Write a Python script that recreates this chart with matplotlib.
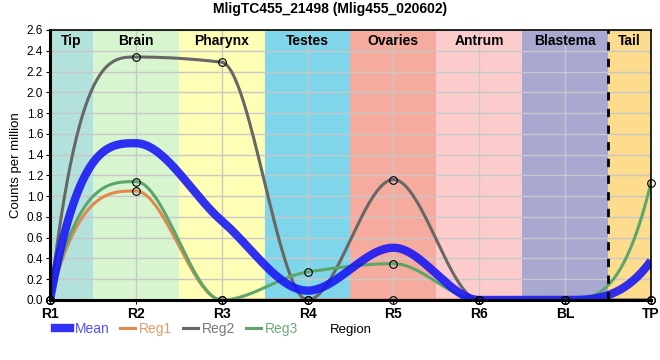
import numpy as np
import matplotlib.pyplot as plt

plt.rcParams['font.family'] = ['Liberation Sans', 'DejaVu Sans']

regions = ['R1', 'R2', 'R3', 'R4', 'R5', 'R6', 'BL', 'TP']
reg1 = [0.0, 1.05, 0.0, 0.0, 0.0, 0.0, 0.0, 0.0]
reg2 = [0.0, 2.34, 2.29, 0.0, 1.16, 0.0, 0.0, 0.0]
reg3 = [0.0, 1.14, 0.0, 0.27, 0.35, 0.0, 0.0, 1.13]
mean = list(np.mean([reg1, reg2, reg3], axis=0))

bands = ['Tip', 'Brain', 'Pharynx', 'Testes', 'Ovaries', 'Antrum', 'Blastema', 'Tail']
band_colors = ['#b3e2dd', '#d7f5cf', '#fefeb4', '#7fd5ea', '#f5ab9e', '#fccbcb', '#a9a8d0', '#fddc8d']


def smooth(y, n=60):
    # monotone cubic, curvature-free ends
    y = np.asarray(y, float)
    x = np.arange(len(y), dtype=float)
    d = np.diff(y)
    m = np.zeros_like(y)
    for i in range(1, len(y) - 1):
        if d[i - 1] * d[i] > 0:
            m[i] = 2 / (1 / d[i - 1] + 1 / d[i])
    m[0] = 3 * d[0] - 2 * m[1]
    m[-1] = 3 * d[-1] - 2 * m[-2]
    xs, ys = [], []
    for i in range(len(y) - 1):
        t = np.linspace(0, 1, n)
        h00 = 2 * t**3 - 3 * t**2 + 1
        h10 = t**3 - 2 * t**2 + t
        h01 = -2 * t**3 + 3 * t**2
        h11 = t**3 - t**2
        xs.append(x[i] + t)
        ys.append(h00 * y[i] + h10 * m[i] + h01 * y[i + 1] + h11 * m[i + 1])
    return np.concatenate(xs), np.concatenate(ys)


fig = plt.figure(figsize=(6.6, 3.6), dpi=100)
ax = fig.add_axes([50 / 660, 60 / 360, 601 / 660, 270 / 360])

for i, (name, c) in enumerate(zip(bands, band_colors)):
    lo = max(i - 0.5, 0)
    hi = min(i + 0.5, 7)
    ax.axvspan(lo, hi, color=c, lw=0, zorder=0)
    ax.text((lo + hi) / 2, 2.49, name, ha='center', va='center',
            fontsize=10, fontweight='bold', zorder=5)

ax.axvline(6.5, color='black', ls=(0, (3, 3)), lw=2, zorder=6)

x = np.arange(len(regions))
series = [('Reg1', reg1, '#e0894f'), ('Reg2', reg2, '#676767'), ('Reg3', reg3, '#5ca66a')]
for name, vals, c in series:
    sx, sy = smooth(vals)
    ax.plot(sx, sy, color=c, lw=2.2, zorder=3, label=name)
for name, vals, c in series:
    ax.plot(x, vals, 'o', ms=5.5, mfc='none', mec='black', mew=0.8, zorder=7, clip_on=False)

mx, my = smooth(mean)
ax.plot(mx, my, color='#1515f5', lw=6, alpha=0.88, zorder=4, label='Mean',
        solid_capstyle='butt')

ax.set_xlim(0, 7)
ax.set_ylim(0, 2.6)
ax.set_xticks(x)
ax.set_xticklabels(regions, fontsize=10, fontweight='bold')
ax.set_yticks(np.arange(0, 2.61, 0.2))
ax.set_yticklabels(['%.1f' % v for v in np.arange(0, 2.61, 0.2)], fontsize=8.5)
ax.grid(True, color='#c8c8c8', lw=1, zorder=1)
for gl in ax.get_xgridlines() + ax.get_ygridlines():
    gl.set_zorder(1)
ax.tick_params(axis='x', length=3, pad=2)
ax.tick_params(axis='y', length=3, pad=2)
ax.spines['left'].set_linewidth(2.2)
ax.spines['bottom'].set_linewidth(2.2)
ax.spines['top'].set_linewidth(1.2)
ax.spines['right'].set_linewidth(1.2)
for s in ax.spines.values():
    s.set_zorder(8)

ax.set_ylabel('Counts per million', fontsize=9.5, labelpad=3)
ax.set_xlabel('Region', fontsize=9.5)
ax.xaxis.set_label_coords(0.5, -0.09)
fig.suptitle('MligTC455_21498 (Mlig455_020602)', fontsize=10, fontweight='bold', y=0.995)

handles = [plt.Line2D([], [], color='#1515f5', lw=6, alpha=0.88)]
handles += [plt.Line2D([], [], color=c, lw=2.2) for _, _, c in series]
labels = ['Mean', 'Reg1', 'Reg2', 'Reg3']
leg = fig.legend(handles, labels, loc='center left', bbox_to_anchor=(55 / 660, 1 - 329 / 360),
                 ncol=4, frameon=False, fontsize=10, handlelength=1.1, handletextpad=0.3,
                 columnspacing=0.75, borderaxespad=0, borderpad=0)
for t, c in zip(leg.get_texts(), ['#5050ff', '#e39a68', '#77777f', '#6aad7a']):
    t.set_color(c)

fig.savefig('out.png', dpi=100)
